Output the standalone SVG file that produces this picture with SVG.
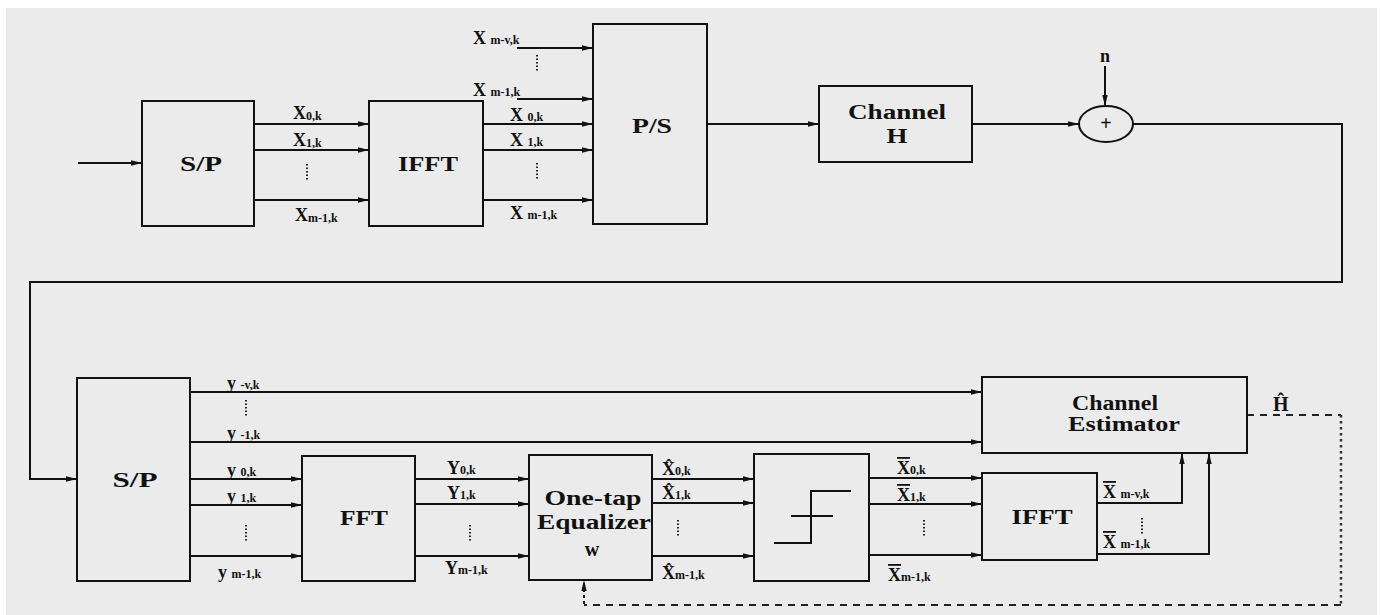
<svg xmlns="http://www.w3.org/2000/svg" width="1381" height="615" viewBox="0 0 1381 615">
<style>
.box{fill:none;stroke:#111;stroke-width:2}
.ln{fill:none;stroke:#111;stroke-width:2}
.ar{marker-end:url(#ah)}
.dash{fill:none;stroke:#222;stroke-width:2;stroke-dasharray:7 6}
.dotv{fill:none;stroke:#333;stroke-width:2.5;stroke-dasharray:2.5 3.5}
.dots{fill:none;stroke:#222;stroke-width:2;stroke-dasharray:1.5 2}
.t{font-family:"Liberation Serif","Times New Roman","DejaVu Serif",serif;font-weight:bold;fill:#111}
.big{font-size:20px;text-anchor:middle}
.lab{font-size:18px}
.sub{font-size:12px}
</style>
<defs>
<marker id="ah" markerUnits="userSpaceOnUse" markerWidth="12" markerHeight="8" refX="11" refY="4" orient="auto">
<path d="M0,1.3 L11,4 L0,6.7 Z" fill="#111"/>
</marker>
</defs>
<rect x="0" y="0" width="1381" height="615" fill="#fff"/>
<rect x="6" y="8" width="1371" height="607" fill="#ebebeb"/>

<g id="connectors">
<path class="ln ar" d="M78,163 H142"/>
<path class="ln ar" d="M254,124 H369"/>
<path class="ln ar" d="M254,150 H369"/>
<path class="ln ar" d="M254,200 H369"/>
<path class="ln ar" d="M483,124 H593"/>
<path class="ln ar" d="M483,150 H593"/>
<path class="ln ar" d="M483,200 H593"/>
<path class="ln ar" d="M517,48 H593"/>
<path class="ln ar" d="M517,99 H593"/>
<path class="ln ar" d="M707,124 H819"/>
<path class="ln ar" d="M972,124 H1079"/>
<path class="ln ar" d="M1105,66 V106"/>
<path class="ln ar" d="M1132,124 H1342 V282 H30 V479 H77"/>
<path class="ln ar" d="M190,392 H982"/>
<path class="ln ar" d="M190,442 H982"/>
<path class="ln ar" d="M190,479 H302"/>
<path class="ln ar" d="M190,505 H302"/>
<path class="ln ar" d="M190,556 H302"/>
<path class="ln ar" d="M415,479 H529"/>
<path class="ln ar" d="M415,504 H529"/>
<path class="ln ar" d="M415,556 H529"/>
<path class="ln ar" d="M652,479 H754"/>
<path class="ln ar" d="M652,503 H754"/>
<path class="ln ar" d="M652,556 H754"/>
<path class="ln ar" d="M869,478 H982"/>
<path class="ln ar" d="M869,504 H982"/>
<path class="ln ar" d="M869,555 H982"/>
<path class="ln ar" d="M1097,503 H1182 V453"/>
<path class="ln ar" d="M1097,554 H1209 V453"/>
<path class="dash" d="M1247,415 H1341"/>
<path class="dotv" d="M1341,415 V605"/>
<path class="dash" d="M1341,605 H584"/>
<path class="ln ar" d="M584,604 V580" stroke-dasharray="3 3"/>
<path class="dots" d="M307,164 V180"/>
<path class="dots" d="M537,55 V72"/>
<path class="dots" d="M537,163 V180"/>
<path class="dots" d="M246,400 V416"/>
<path class="dots" d="M246,525 V542"/>
<path class="dots" d="M470,525 V541"/>
<path class="dots" d="M678,520 V536"/>
<path class="dots" d="M924,520 V536"/>
<path class="dots" d="M1142,518 V535"/>
</g>

<g id="sp1"><rect class="box" x="142" y="101" width="112" height="125"/><text class="t big" x="201" y="171" textLength="42" lengthAdjust="spacingAndGlyphs">S/P</text></g>
<g id="ifft1"><rect class="box" x="369" y="101" width="114" height="125"/><text class="t big" x="428" y="171" textLength="60" lengthAdjust="spacingAndGlyphs">IFFT</text></g>
<g id="ps"><rect class="box" x="593" y="24" width="114" height="200"/><text class="t big" x="652" y="133" textLength="40" lengthAdjust="spacingAndGlyphs">P/S</text></g>
<g id="channel"><rect class="box" x="819" y="86" width="153" height="76"/><text class="t big" x="897" y="119" textLength="98" lengthAdjust="spacingAndGlyphs">Channel</text><text class="t big" x="897" y="143" textLength="21" lengthAdjust="spacingAndGlyphs">H</text></g>
<g id="sum"><ellipse class="box" cx="1106" cy="124" rx="27" ry="18"/><text class="t big" x="1106" y="130">+</text></g>
<g id="sp2"><rect class="box" x="77" y="378" width="113" height="203"/><text class="t big" x="135" y="487" textLength="45" lengthAdjust="spacingAndGlyphs">S/P</text></g>
<g id="fft"><rect class="box" x="302" y="456" width="113" height="125"/><text class="t big" x="364" y="525" textLength="48" lengthAdjust="spacingAndGlyphs">FFT</text></g>
<g id="equalizer"><rect class="box" x="529" y="455" width="123" height="125"/><text class="t big" x="593" y="505" textLength="97" lengthAdjust="spacingAndGlyphs">One-tap</text><text class="t big" x="594" y="529" textLength="114" lengthAdjust="spacingAndGlyphs">Equalizer</text><text class="t big" x="592" y="556">w</text></g>
<g id="decision"><rect class="box" x="754" y="454" width="115" height="127"/><path class="ln" d="M851,491 H811 V543 H774 M791,516 H833" stroke-width="1.8"/></g>
<g id="ifft2"><rect class="box" x="982" y="473" width="115" height="87"/><text class="t big" x="1042" y="524" textLength="61" lengthAdjust="spacingAndGlyphs">IFFT</text></g>
<g id="estimator"><rect class="box" x="982" y="377" width="265" height="76"/><text class="t big" x="1115" y="410" textLength="86" lengthAdjust="spacingAndGlyphs">Channel</text><text class="t big" x="1124" y="431" textLength="112" lengthAdjust="spacingAndGlyphs">Estimator</text></g>

<g id="labels">
<text class="t lab" x="293" y="119">X<tspan class="sub" dy="1">0,k</tspan></text>
<text class="t lab" x="293" y="146">X<tspan class="sub" dy="1">1,k</tspan></text>
<text class="t lab" x="295" y="221">X<tspan class="sub" dy="1">m-1,k</tspan></text>
<text class="t lab" x="473" y="44">X <tspan class="sub">m-v,k</tspan></text>
<text class="t lab" x="473" y="96">X <tspan class="sub">m-1,k</tspan></text>
<text class="t lab" x="510" y="121">X <tspan class="sub">0,k</tspan></text>
<text class="t lab" x="510" y="146">X <tspan class="sub">1,k</tspan></text>
<text class="t lab" x="510" y="219">X <tspan class="sub">m-1,k</tspan></text>
<text class="t lab" x="1100" y="62">n</text>
<text class="t lab" x="227" y="389">y <tspan class="sub">-v,k</tspan></text>
<text class="t lab" x="227" y="439">y <tspan class="sub">-1,k</tspan></text>
<text class="t lab" x="227" y="476">y <tspan class="sub">0,k</tspan></text>
<text class="t lab" x="227" y="502">y <tspan class="sub">1,k</tspan></text>
<text class="t lab" x="218" y="578">y <tspan class="sub">m-1,k</tspan></text>
<text class="t lab" x="447" y="474">Y<tspan class="sub">0,k</tspan></text>
<text class="t lab" x="447" y="499">Y<tspan class="sub">1,k</tspan></text>
<text class="t lab" x="445" y="574">Y<tspan class="sub">m-1,k</tspan></text>
<text class="t lab" x="662" y="475">X̂<tspan class="sub">0,k</tspan></text>
<text class="t lab" x="662" y="499">X̂<tspan class="sub">1,k</tspan></text>
<text class="t lab" x="662" y="579">X̂<tspan class="sub">m-1,k</tspan></text>
<text class="t lab" x="897" y="474"><tspan text-decoration="overline">X</tspan><tspan class="sub">0,k</tspan></text>
<text class="t lab" x="897" y="501"><tspan text-decoration="overline">X</tspan><tspan class="sub">1,k</tspan></text>
<text class="t lab" x="888" y="581"><tspan text-decoration="overline">X</tspan><tspan class="sub">m-1,k</tspan></text>
<text class="t lab" x="1103" y="498"><tspan text-decoration="overline">X</tspan> <tspan class="sub">m-v,k</tspan></text>
<text class="t lab" x="1103" y="548"><tspan text-decoration="overline">X</tspan> <tspan class="sub">m-1,k</tspan></text>
<text class="t" style="font-size:20px" x="1273" y="411">Ĥ</text>
</g>
</svg>
